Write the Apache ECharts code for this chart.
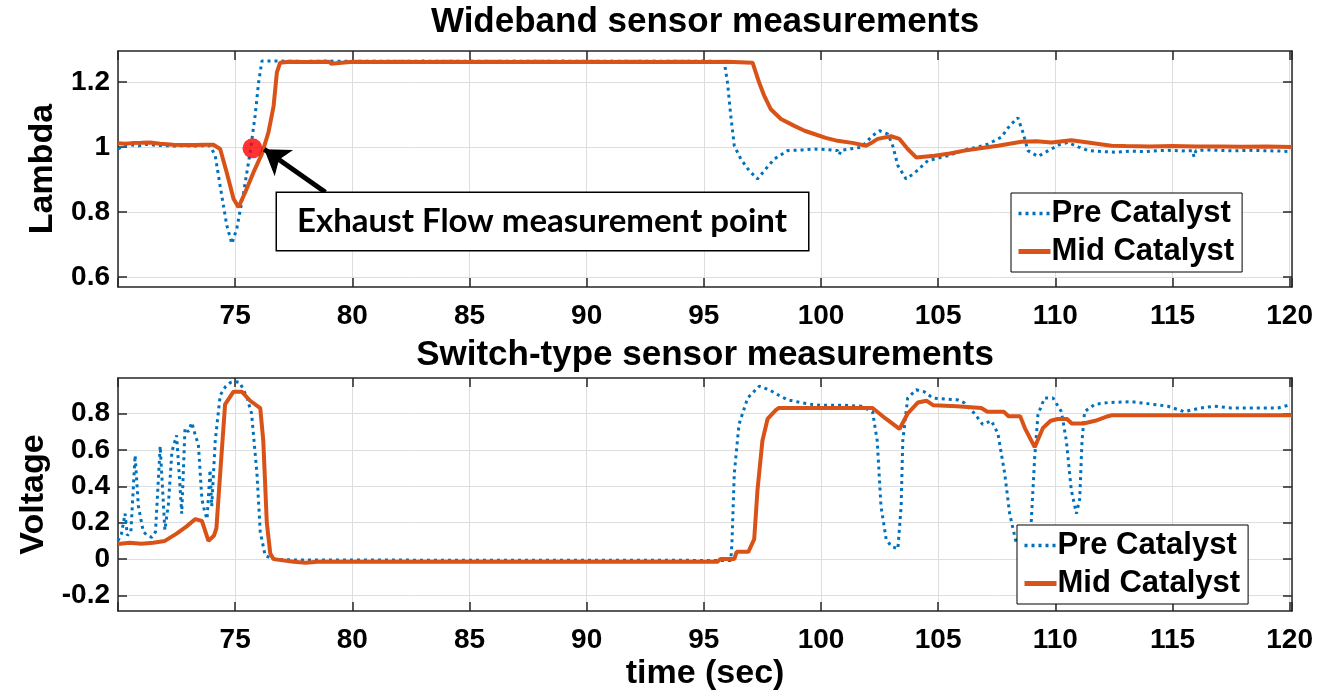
<!DOCTYPE html>
<html>
<head>
<meta charset="utf-8">
<script src="https://cdn.jsdelivr.net/npm/echarts@6/dist/echarts.min.js"></script>
<style>
html,body{margin:0;padding:0;background:#fff;}
#chart{width:1326px;height:692px;}
</style>
</head>
<body>
<div id="chart"></div>
<script>
// ---------- Data ----------
const seriesNames = ['Pre Catalyst', 'Mid Catalyst'];
const titles = ['Wideband sensor measurements', 'Switch-type sensor measurements'];
const xTickLabels = [75, 80, 85, 90, 95, 100, 105, 110, 115, 120];
const lambdaTicks = [0.6, 0.8, 1, 1.2];
const voltageTicks = [-0.2, 0, 0.2, 0.4, 0.6, 0.8];

// Wideband – Pre Catalyst
const wbPreTime = [70.0,70.15,70.3,70.6,70.9,71.2,71.4,71.7,72.0,72.4,72.8,73.2,73.6,73.93,74.15,74.36,74.64,74.86,75.07,75.36,75.64,75.85,76.0,76.14,
  77,78,79,80,81,82,83,84,85,86,87,88,89,90,91,92,93,94,95,95.87,
  96.01,96.15,96.3,96.58,96.94,97.29,97.65,98.0,98.58,99.2,99.7,100.3,100.71,100.78,100.85,101.3,101.7,102.0,102.2,102.5,102.85,103.06,103.28,103.63,103.99,104.56,105.0,105.41,105.9,106.27,106.7,107.12,107.69,108.05,108.4,108.62,108.83,109.26,109.83,110.2,110.54,111.0,111.4,112.0,112.6,113.2,113.9,114.4,114.8,115.4,115.85,115.92,116.0,116.5,117.0,117.6,118.2,118.8,119.4,120.1];
const wbPre = [0.994,1.0,1.005,1.006,1.004,1.008,1.007,1.005,1.004,1.003,1.004,1.003,1.004,1.004,0.973,0.88,0.76,0.703,0.75,0.861,0.984,1.096,1.198,1.264,
  1.264,1.263,1.264,1.263,1.264,1.263,1.264,1.263,1.264,1.263,1.264,1.263,1.264,1.263,1.264,1.263,1.264,1.263,1.264,1.262,
  1.198,1.096,1.004,0.963,0.927,0.902,0.933,0.963,0.989,0.991,0.994,0.992,0.989,0.976,0.99,0.995,0.999,1.02,1.035,1.05,1.04,1.004,0.943,0.902,0.92,0.958,0.966,0.973,0.985,0.994,1.0,1.009,1.03,1.065,1.09,1.045,0.989,0.971,0.994,1.008,1.014,1.0,0.989,0.986,0.984,0.987,0.986,0.989,0.99,0.988,0.989,0.97,0.989,0.991,0.99,0.988,0.99,0.989,0.988,0.986];

// Wideband – Mid Catalyst
const wbMidTime = [70.0,70.3,70.6,71.0,71.37,71.8,72.36,72.8,73.3,73.7,74.07,74.36,74.64,74.93,75.14,75.43,75.78,76.14,76.42,76.64,76.78,76.92,
  77.3,78,79,79.1,80,81,82,83,84,85,86,87,88,89,90,91,92,93,94,95,96,97.08,
  97.36,97.58,97.86,98.29,98.86,99.3,99.71,100.2,100.71,101.4,101.92,102.2,102.42,102.99,103.35,103.7,104.06,104.84,105.5,106.12,106.8,107.55,108.55,109.2,109.83,110.3,110.68,111.0,111.4,112.0,112.4,113,114,115,116,117,118,119,120.1];
const wbMid = [1.012,1.01,1.012,1.013,1.014,1.01,1.007,1.006,1.006,1.007,1.007,0.994,0.922,0.841,0.815,0.861,0.922,0.979,1.045,1.126,1.229,1.259,
  1.262,1.261,1.262,1.256,1.262,1.261,1.262,1.261,1.262,1.261,1.262,1.261,1.262,1.261,1.262,1.261,1.262,1.261,1.262,1.261,1.262,1.259,
  1.198,1.157,1.116,1.086,1.065,1.05,1.04,1.028,1.019,1.012,1.004,1.015,1.025,1.033,1.025,0.994,0.968,0.973,0.98,0.989,0.996,1.004,1.016,1.018,1.014,1.018,1.021,1.018,1.014,1.008,1.004,1.003,1.002,1.003,1.002,1.002,1.001,1.002,1.0];

// Switch-type – Pre Catalyst
const swPreTime = [70.0,70.15,70.3,70.4,70.55,70.73,70.87,71.08,71.25,71.44,71.6,71.8,72.0,72.15,72.3,72.5,72.62,72.72,72.86,73.0,73.15,73.3,73.43,73.58,73.7,73.8,73.93,74.0,74.15,74.36,74.6,74.8,75.0,75.2,75.5,75.7,75.93,76.07,76.28,76.6,77.5,80,85,90,95,96.15,
  96.2,96.3,96.5,96.87,97.36,97.8,98.2,98.57,99.15,99.6,100,101,101.7,102.2,102.4,102.56,102.78,103.0,103.28,103.42,103.49,103.7,104.06,104.4,104.77,105.3,105.83,106.1,106.55,106.9,107.27,107.55,107.84,108.05,108.33,108.6,108.97,109.12,109.26,109.54,109.9,110.26,110.47,110.68,110.9,111.04,111.14,111.25,111.68,112.25,113.25,114.2,114.8,115.5,116.2,116.8,117.5,118.5,119.5,120.1];
const swPre = [0.10,0.14,0.25,0.13,0.15,0.57,0.29,0.15,0.13,0.12,0.15,0.62,0.16,0.30,0.59,0.68,0.45,0.25,0.72,0.70,0.75,0.68,0.63,0.33,0.26,0.22,0.49,0.29,0.65,0.90,0.95,0.97,0.975,0.97,0.89,0.80,0.47,0.15,0.02,0.0,-0.005,-0.005,-0.006,-0.006,-0.007,-0.007,
  0.09,0.47,0.74,0.885,0.95,0.93,0.90,0.875,0.86,0.85,0.845,0.845,0.84,0.81,0.65,0.29,0.11,0.07,0.056,0.29,0.65,0.885,0.93,0.92,0.885,0.88,0.875,0.86,0.80,0.74,0.76,0.69,0.47,0.25,0.09,0.08,0.20,0.56,0.795,0.885,0.885,0.81,0.65,0.38,0.25,0.33,0.65,0.81,0.85,0.86,0.865,0.85,0.84,0.81,0.83,0.84,0.83,0.83,0.83,0.85];

// Switch-type – Mid Catalyst
const swMidTime = [70.0,70.5,71.0,71.5,72.0,72.5,72.93,73.3,73.58,73.86,74.1,74.2,74.36,74.57,74.93,75.28,75.64,76.07,76.2,76.35,76.5,76.64,77.5,78,78.5,80,85,90,95,95.58,95.7,96.3,96.4,96.9,
  97.15,97.29,97.5,97.72,98.08,98.2,102.2,102.78,103.35,103.7,104.13,104.5,104.8,105.8,106.84,107.1,107.8,108.0,108.5,108.7,109.12,109.47,109.8,110.1,110.5,110.7,111.2,111.7,112.25,112.4,120.1];
const swMid = [0.083,0.09,0.085,0.09,0.10,0.14,0.18,0.22,0.21,0.10,0.13,0.17,0.47,0.85,0.92,0.92,0.87,0.83,0.65,0.20,0.03,0.0,-0.015,-0.02,-0.015,-0.015,-0.015,-0.015,-0.015,-0.015,0.0,0.0,0.04,0.04,
  0.11,0.38,0.65,0.77,0.82,0.83,0.83,0.77,0.715,0.80,0.86,0.87,0.845,0.84,0.83,0.81,0.81,0.785,0.785,0.72,0.615,0.72,0.76,0.77,0.77,0.745,0.745,0.76,0.785,0.79,0.79];

// Annotation (measurement point, arrow from label box towards it)
const measurePoint = [75.74, 0.996];
const arrowTail = [78.85, 0.861];
const arrowHead = [76.24, 0.993];
const annotationText = 'Exhaust Flow measurement point';
const xName = 'time (sec)';
const yNames = ['Lambda', 'Voltage'];

// ---------- Chart ----------
const zip = (t, v) => t.map((x, i) => [x, v[i]]);
const BLUE = '#0072BD', ORANGE = '#D95319', AX = '#262626';
const FONT = 'Liberation Sans';

function xAxes(grid, withName) {
  const base = {
    gridIndex: grid, type: 'value', min: 70, max: 120.1, interval: 5,
    axisLine: {show: true, onZero: false, lineStyle: {color: AX, width: 1.5}},
    axisTick: {show: true, inside: true, length: 9, lineStyle: {color: AX, width: 1.5}},
  };
  return [
    Object.assign({}, base, {
      position: 'bottom',
      axisLabel: {show: true, margin: 15, color: '#000', fontFamily: FONT, fontWeight: 'bold', fontSize: 28,
        formatter: v => (v >= 74.99 && Math.abs(v / 5 - Math.round(v / 5)) < 1e-6 && xTickLabels.indexOf(Math.round(v)) >= 0) ? String(Math.round(v)) : ''},
      splitLine: {show: true, lineStyle: {color: '#dedede', width: 1}},
      name: withName ? xName : '', nameLocation: 'middle', nameGap: 46,
      nameTextStyle: {color: '#000', fontFamily: FONT, fontWeight: 'bold', fontSize: 34}
    }),
    Object.assign({}, base, {position: 'top', axisLabel: {show: false}, splitLine: {show: false}})
  ];
}
function yAxes(grid, min, max, ticks, name) {
  const base = {
    gridIndex: grid, type: 'value', min: min, max: max,
    axisLine: {show: true, onZero: false, lineStyle: {color: AX, width: 1.5}},
    axisTick: {show: true, inside: true, length: 9, customValues: ticks, lineStyle: {color: AX, width: 1.5}},
  };
  return [
    Object.assign({}, base, {
      position: 'left',
      axisLabel: {show: true, margin: 8, customValues: ticks, color: '#000', fontFamily: FONT, fontWeight: 'bold', fontSize: 28,
        formatter: v => String(v)},
      splitLine: {show: true, lineStyle: {color: '#dedede', width: 1}},
      name: name, nameLocation: 'middle', nameGap: 58, nameRotate: 90,
      nameTextStyle: {color: '#000', fontFamily: FONT, fontWeight: 'bold', fontSize: 34}
    }),
    Object.assign({}, base, {position: 'right', axisLabel: {show: false, customValues: ticks}, splitLine: {show: false}})
  ];
}

const legendBase = {
  data: [
    {name: seriesNames[0], lineStyle: {color: BLUE, width: 3.5, type: [3, 4]}},
    {name: seriesNames[1], lineStyle: {color: ORANGE, width: 5, type: 'solid'}}
  ],
  orient: 'vertical', itemWidth: 32, itemHeight: 14, itemGap: 7,
  backgroundColor: '#fff', borderColor: '#000', borderWidth: 1, borderRadius: 0,
  padding: [5, 8, 5, 5],
  itemStyle: {color: 'rgba(0,0,0,0)', borderWidth: 0, opacity: 0},
  textStyle: {color: '#000', fontFamily: FONT, fontWeight: 'bold', fontSize: 31, padding: [0, 0, 0, -4]}
};

const preStyle = {color: BLUE, width: 3, type: [3, 4]};
const midStyle = {color: ORANGE, width: 4, type: 'solid'};

const option = {
  animation: false,
  backgroundColor: '#fff',
  grid: [
    {left: 118, top: 51, width: 1174, height: 236},
    {left: 118, top: 378, width: 1174, height: 237}
  ],
  xAxis: [].concat(xAxes(0, false), xAxes(1, true)),
  yAxis: [].concat(yAxes(0, 0.57, 1.295, lambdaTicks, yNames[0]), yAxes(1, -0.285, 0.995, voltageTicks, yNames[1])),
  legend: [
    Object.assign({}, legendBase, {left: 1011, top: 193}),
    Object.assign({}, legendBase, {left: 1017, top: 525})
  ],
  graphic: [
    {type: 'text', x: 705, y: 22, z: 10, style: {text: titles[0], textAlign: 'center', textVerticalAlign: 'middle', fill: '#000', font: 'bold 35px "Liberation Sans"'}},
    {type: 'text', x: 705, y: 355, z: 10, style: {text: titles[1], textAlign: 'center', textVerticalAlign: 'middle', fill: '#000', font: 'bold 35px "Liberation Sans"'}},
    {type: 'text', x: 277, y: 193, z: 10, style: {text: annotationText, fill: '#000', font: 'bold 33px Lato',
      backgroundColor: '#fff', borderColor: '#000', borderWidth: 1.5, padding: [12, 21, 12, 20]}}
  ],
  series: [
    {name: seriesNames[0], type: 'line', xAxisIndex: 0, yAxisIndex: 0, data: zip(wbPreTime, wbPre), symbol: 'none', showSymbol: false, lineStyle: preStyle, itemStyle: {color: BLUE}, z: 2},
    {name: seriesNames[1], type: 'line', xAxisIndex: 0, yAxisIndex: 0, data: zip(wbMidTime, wbMid), symbol: 'none', showSymbol: false, lineStyle: midStyle, itemStyle: {color: ORANGE}, z: 3},
    {name: seriesNames[0], type: 'line', xAxisIndex: 2, yAxisIndex: 2, data: zip(swPreTime, swPre), symbol: 'none', showSymbol: false, lineStyle: preStyle, itemStyle: {color: BLUE}, z: 2},
    {name: seriesNames[1], type: 'line', xAxisIndex: 2, yAxisIndex: 2, data: zip(swMidTime, swMid), symbol: 'none', showSymbol: false, lineStyle: midStyle, itemStyle: {color: ORANGE}, z: 3},
    {name: 'point', type: 'scatter', xAxisIndex: 0, yAxisIndex: 0, data: [measurePoint], symbolSize: 20, itemStyle: {color: '#ff0000'}, z: 4, silent: true,
      markLine: {silent: true, symbol: ['none', 'arrow'], symbolSize: 24, label: {show: false}, z: 8,
        lineStyle: {color: '#000', width: 5, type: 'solid', opacity: 1},
        data: [[{coord: arrowTail}, {coord: arrowHead}]]}}
  ]
};
const chart = echarts.init(document.getElementById('chart'), null, {renderer: 'canvas'});
chart.setOption(option);
</script>
</body>
</html>
